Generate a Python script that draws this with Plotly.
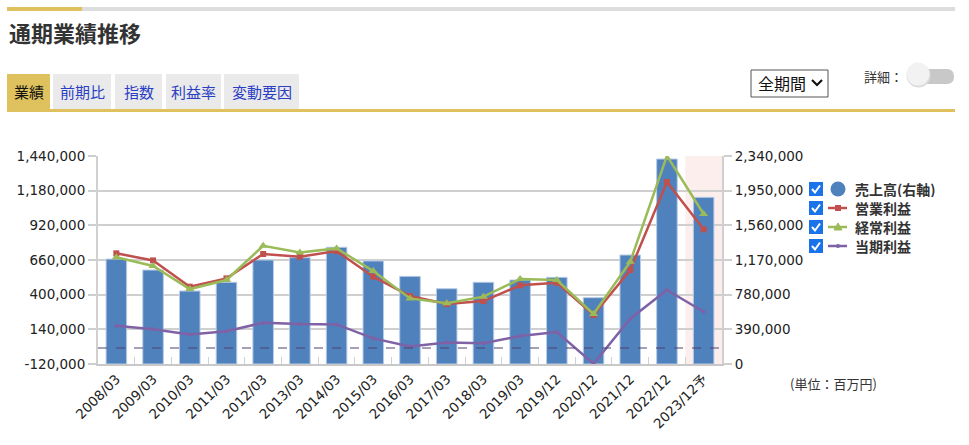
import plotly.graph_objects as go

categories = ["2008/03", "2009/03", "2010/03", "2011/03", "2012/03", "2013/03", "2014/03",
              "2015/03", "2016/03", "2017/03", "2018/03", "2019/03", "2019/12", "2020/12",
              "2021/12", "2022/12", "2023/12予"]
sales = [1180000, 1057000, 821000, 919000, 1170000, 1196000, 1313000, 1159000, 986000, 847000,
         919000, 945000, 975000, 746000, 1226000, 2306000, 1875000]
operating = [710000, 657000, 460000, 522000, 705000, 685000, 727000, 535000, 390000, 330000,
             352000, 470000, 490000, 247000, 585000, 1245000, 890000]
ordinary = [680000, 615000, 442000, 510000, 767000, 717000, 747000, 577000, 372000, 335000,
            385000, 517000, 510000, 255000, 647000, 1442000, 1005000]
net = [167000, 140000, 102000, 125000, 190000, 180000, 177000, 72000, 12000, 42000,
       35000, 90000, 120000, -118000, 220000, 435000, 272000]

left_ticks = [-120000, 140000, 400000, 660000, 920000, 1180000, 1440000]
left_labels = ["-120,000", "140,000", "400,000", "660,000", "920,000", "1,180,000", "1,440,000"]
right_ticks = [0, 390000, 780000, 1170000, 1560000, 1950000, 2340000]
right_labels = ["0", "390,000", "780,000", "1,170,000", "1,560,000", "1,950,000", "2,340,000"]

W, H = 969, 445
L, R, T, B = 98, 722, 156, 364


def px(x):
    return (x - L) / (R - L)


def py(y):
    return (B - y) / (B - T)


BLUE = "#4f81bd"
RED = "#c0504d"
GREEN = "#9bbb59"
PURPLE = "#7f62a6"
TICKFONT = dict(family="Verdana, DejaVu Sans, Noto Sans CJK JP", size=13.5, color="#222")
JP = "Noto Sans CJK JP"

fig = go.Figure()
fig.add_trace(go.Bar(x=categories, y=sales, yaxis="y", name="売上高(右軸)",
                     marker=dict(color=BLUE, line=dict(color="#b7cbe6", width=1)),
                     width=0.56, showlegend=False))
fig.add_trace(go.Scatter(x=categories, y=operating, yaxis="y2", mode="lines+markers", name="営業利益",
                         line=dict(color=RED, width=2.5),
                         marker=dict(symbol="square", size=6, color=RED), showlegend=False))
fig.add_trace(go.Scatter(x=categories, y=ordinary, yaxis="y2", mode="lines+markers", name="経常利益",
                         line=dict(color=GREEN, width=2.5),
                         marker=dict(symbol="triangle-up", size=8, color=GREEN), showlegend=False))
fig.add_trace(go.Scatter(x=categories, y=net, yaxis="y2", mode="lines+markers", name="当期利益",
                         line=dict(color=PURPLE, width=2.5),
                         marker=dict(symbol="circle", size=4, color=PURPLE), showlegend=False,
                         cliponaxis=False))

shapes = []
annotations = []


def prect(x0, y0, x1, y1, fill, line_color=None, lw=0, layer="above"):
    shapes.append(dict(type="rect", xref="paper", yref="paper", x0=px(x0), x1=px(x1), y0=py(y1), y1=py(y0),
                       fillcolor=fill, line=dict(width=lw, color=line_color or fill), layer=layer))


def pcircle(cx, cy, r, fill):
    shapes.append(dict(type="circle", xref="paper", yref="paper", x0=px(cx - r), x1=px(cx + r),
                       y0=py(cy + r), y1=py(cy - r), fillcolor=fill, line=dict(width=0)))


def ppath(points, color, width=2, fill=None, closed=False):
    s = "M " + " L ".join(f"{px(x):.5f},{py(y):.5f}" for x, y in points)
    if closed:
        s += " Z"
    shapes.append(dict(type="path", xref="paper", yref="paper", path=s,
                       line=dict(color=color, width=width), fillcolor=fill or "rgba(0,0,0,0)"))


def ptext(x, y, text, size, color="#333", xanchor="left", family=JP, bold=False, height=None):
    if bold:
        text = f"<b>{text}</b>"
    a = dict(x=px(x), y=py(y), xref="paper", yref="paper", text=text, showarrow=False,
             xanchor=xanchor, yanchor="middle", font=dict(size=size, color=color, family=family))
    if height:
        a["height"] = height
    annotations.append(a)


# forecast shading
shapes.append(dict(type="rect", xref="x", yref="paper", x0=15.5, x1=16.5, y0=0, y1=1,
                   fillcolor="#fdeeee", line=dict(width=0), layer="below"))
# zero dashed line on left axis
shapes.append(dict(type="line", xref="paper", yref="y2", x0=0, x1=1, y0=0, y1=0,
                   line=dict(color="#4e406e", width=1.2, dash="dash"), layer="above"))

# header bar
prect(7, 7, 955, 11, "#dddddd")
prect(7, 7, 82, 11, "#dfc15e")
ptext(7, 32, "通期業績推移", 22, "#333", bold=True)

# tabs
tabs = [("業績", 7, 50, True), ("前期比", 53, 111, False), ("指数", 115, 162, False),
        ("利益率", 166, 221, False), ("変動要因", 224, 299, False)]
for label, x0, x1, active in tabs:
    prect(x0, 74, x1, 110, "#dfc15e" if active else "#eaeaea")
    ptext((x0 + x1) / 2, 91, label, 15, "#111" if active else "#2b3fc4", xanchor="center")
prect(7, 109, 955, 112, "#dfc15e")

# dropdown
prect(751, 70, 828, 97, "#ffffff", "#555555", 1)
ptext(756, 83, "全期間", 16, "#111")
ppath([(812, 80), (817, 85), (822, 80)], "#111", width=2.2)

# toggle
ptext(862, 76, "詳細：", 13, "#333")
shapes.append(dict(type="path", xref="paper", yref="paper",
                   path=(f"M {px(914):.5f},{py(69):.5f} L {px(947):.5f},{py(69):.5f} "
                         f"Q {px(954):.5f},{py(69):.5f} {px(954):.5f},{py(76.5):.5f} "
                         f"Q {px(954):.5f},{py(84):.5f} {px(947):.5f},{py(84):.5f} "
                         f"L {px(914):.5f},{py(84):.5f} Z"),
                   fillcolor="#c8c8c8", line=dict(width=0)))
pcircle(918.5, 75.5, 12, "#dcdcdc")
pcircle(918, 74, 11.5, "#f2f2f2")

# custom legend
legend_rows = [(189, "売上高(右軸)"), (208, "営業利益"), (227, "経常利益"), (246, "当期利益")]
for i, (yc, name) in enumerate(legend_rows):
    prect(809, yc - 7, 823, yc + 7, "#1a73e8")
    ppath([(812, yc), (815, yc + 3.5), (820, yc - 3.5)], "#ffffff", width=2)
    if i == 0:
        pcircle(838, yc, 7.5, BLUE)
    else:
        c = [RED, GREEN, PURPLE][i - 1]
        ppath([(828, yc), (847, yc)], c, width=2.5)
        if i == 1:
            prect(835, yc - 3, 841, yc + 3, RED)
        elif i == 2:
            ppath([(838, yc - 4), (842, yc + 3), (834, yc + 3)], GREEN, width=1, fill=GREEN, closed=True)
        else:
            pcircle(838, yc, 2, PURPLE)
    ptext(853, yc, name, 14, "#333", bold=True, height=16)

ptext(788, 383, "(単位：百万円)", 13, "#333")

fig.update_layout(
    width=W, height=H,
    margin=dict(l=L, r=W - R, t=T, b=H - B, pad=0),
    paper_bgcolor="white", plot_bgcolor="white",
    showlegend=False,
    hovermode=False,
    shapes=shapes, annotations=annotations,
    xaxis=dict(type="category", tickangle=-45, tickfont=TICKFONT, showline=True, linecolor="#c8c8c8",
               linewidth=2, ticks="inside", ticklen=7, tickcolor="#d0d0d0", tickwidth=1,
               tickson="boundaries", showgrid=False, range=[-0.5, 16.5]),
    yaxis=dict(side="right", range=[0, 2340000], tickvals=right_ticks, ticktext=right_labels,
               tickfont=TICKFONT, showgrid=True, gridcolor="#cfcfcf", gridwidth=2,
               showline=True, linecolor="#d0d0d0", linewidth=2, ticks="outside", ticklen=8,
               tickcolor="#cfcfcf", tickwidth=2, zeroline=False),
    yaxis2=dict(side="left", overlaying="y", range=[-120000, 1440000], tickvals=left_ticks,
                ticktext=left_labels, tickfont=TICKFONT, showgrid=False, showline=True,
                linecolor="#d0d0d0", linewidth=2, ticks="outside", ticklen=8, tickcolor="#cfcfcf",
                tickwidth=2, zeroline=False),
)

fig.write_html("out.html")
